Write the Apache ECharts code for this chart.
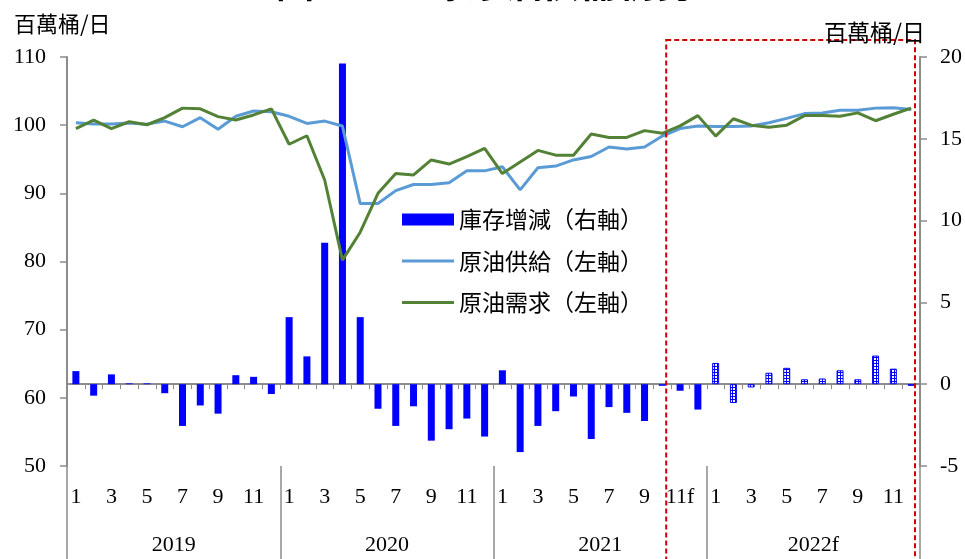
<!DOCTYPE html>
<html><head><meta charset="utf-8">
<script src="https://cdn.jsdelivr.net/npm/echarts@6/dist/echarts.min.js"></script>
<style>html,body{margin:0;padding:0;background:#fff;overflow:hidden}#c{width:965px;height:559px}</style>
</head><body><div id="c"></div>
<script>
// ---- data ----
const monthLabels = [
  '1','2','3','4','5','6','7','8','9','10','11','12',
  '1','2','3','4','5','6','7','8','9','10','11','12',
  '1','2','3','4','5','6','7','8','9','10','11f','12',
  '1','2','3','4','5','6','7','8','9','10','11','12'
];
const yearLabels = ['2019', '2020', '2021', '2022f'];
const seriesNames = ['庫存增減（右軸）', '原油供給（左軸）', '原油需求（左軸）'];
const unitLabel = '百萬桶/日';
const titleText = '圖一　全球原油供需情勢';

// 原油供給 (左軸, 百萬桶/日)
const supply = [
  100.35, 100.16, 100.16, 100.3, 100.15, 100.6, 99.77, 101.1, 99.4, 101.3, 102.07, 101.97,
  101.3, 100.26, 100.6, 99.87, 88.5, 88.5, 90.4, 91.3, 91.3, 91.55, 93.3, 93.3,
  93.9, 90.5, 93.75, 94.0, 94.9, 95.4, 96.8, 96.5, 96.8, 98.4, 99.5, 99.87,
  99.8, 99.8, 99.87, 100.35, 101.0, 101.7, 101.8, 102.2, 102.2, 102.5, 102.55, 102.3
];
// 原油需求 (左軸)
const demand = [
  99.5, 100.75, 99.5, 100.5, 100.06, 101.1, 102.5, 102.4, 101.25, 100.75, 101.5, 102.4,
  97.2, 98.45, 91.95, 80.2, 84.3, 90.0, 92.9, 92.7, 94.9, 94.3, 95.4, 96.6,
  92.9, 94.6, 96.3, 95.6, 95.6, 98.7, 98.2, 98.2, 99.2, 98.8, 99.9, 101.4,
  98.4, 100.94, 100.0, 99.7, 100.0, 101.4, 101.4, 101.3, 101.8, 100.65, 101.6, 102.5
];
// 庫存增減 (右軸)
const stockChange = [
  0.8, -0.7, 0.6, 0.05, 0.05, -0.55, -2.55, -1.3, -1.8, 0.55, 0.45, -0.6,
  4.1, 1.7, 8.65, 19.6, 4.1, -1.5, -2.55, -1.35, -3.45, -2.75, -2.1, -3.2,
  0.85, -4.15, -2.55, -1.65, -0.75, -3.35, -1.4, -1.75, -2.25, -0.1, -0.4, -1.55,
  1.3, -1.15, -0.2, 0.7, 1.0, 0.3, 0.35, 0.85, 0.3, 1.75, 0.95, -0.1
];
const leftAxisRange = [50, 110, 10];
const rightAxisRange = [-5, 20, 5];
const forecastFrom = 34;      // 2021年11月 起為預測
const patternFrom = 36;       // 2022年 以網紋表示

// ---- style ----
const serif = '"Liberation Serif", "Times New Roman", serif';
const cjk = '"Noto Sans CJK TC", "Noto Sans CJK SC", sans-serif';
const axisGrey = '#8c8c8c';
const barBlue = '#0000ff';

function makePattern() {
  const c = document.createElement('canvas');
  c.width = 3; c.height = 3;
  const g = c.getContext('2d');
  g.fillStyle = barBlue; g.fillRect(0, 0, 3, 3);
  g.fillStyle = '#ffffff';
  g.fillRect(1, 1, 2, 2);
  return c;
}
const pattern = { image: makePattern(), repeat: 'repeat' };

const barData = stockChange.map((v, i) => i >= patternFrom
  ? { value: v, itemStyle: { color: pattern, borderColor: barBlue, borderWidth: 1 } }
  : { value: v });

const lineIcon = 'path://M0,0L0.01,0Z M0,12L0.01,12Z M0,4.5L52,4.5L52,7.5L0,7.5Z';

const chart = echarts.init(document.getElementById('c'), null, { renderer: 'canvas' });
const option = {
  animation: false,
  backgroundColor: '#fff',
  grid: { left: 67, right: 42, top: 57, bottom: 93, containLabel: false },
  legend: {
    orient: 'vertical', left: 402, top: 208, padding: 0,
    itemWidth: 52, itemHeight: 12, itemGap: 18.5,
    textStyle: { fontSize: 23, fontFamily: cjk, color: '#000' },
    data: [
      { name: seriesNames[0], icon: 'rect' },
      { name: seriesNames[1], icon: lineIcon },
      { name: seriesNames[2], icon: lineIcon }
    ]
  },
  xAxis: [
    {
      type: 'category', data: monthLabels, position: 'bottom',
      axisLine: { lineStyle: { color: axisGrey, width: 2 } },
      axisTick: { show: true, interval: 0, length: 5, lineStyle: { color: axisGrey, width: 1 } },
      axisLabel: {
        interval: (idx) => idx % 2 === 0, margin: 20,
        fontSize: 22, fontFamily: serif, color: '#000'
      }
    },
    {
      type: 'category', data: yearLabels, position: 'bottom',
      axisLine: { show: false },
      axisTick: { show: true, interval: 0, length: 95, lineStyle: { color: axisGrey, width: 1.5 } },
      axisLabel: { margin: 68, fontSize: 22, fontFamily: serif, color: '#000' }
    }
  ],
  yAxis: [
    {
      type: 'value', min: leftAxisRange[0], max: leftAxisRange[1], interval: leftAxisRange[2],
      axisLine: { show: true, lineStyle: { color: axisGrey, width: 2 } },
      axisTick: { show: true, length: 7, lineStyle: { color: axisGrey, width: 1.5 } },
      splitLine: { show: false },
      axisLabel: { margin: 21, fontSize: 22, fontFamily: serif, color: '#000' }
    },
    {
      type: 'value', min: rightAxisRange[0], max: rightAxisRange[1], interval: rightAxisRange[2],
      position: 'right',
      axisLine: { show: true, lineStyle: { color: axisGrey, width: 2 } },
      axisTick: { show: true, length: 7, lineStyle: { color: axisGrey, width: 1.5 } },
      splitLine: { show: false },
      axisLabel: { margin: 20, fontSize: 22, fontFamily: serif, color: '#000' }
    }
  ],
  series: [
    {
      name: seriesNames[0], type: 'bar', xAxisIndex: 0, yAxisIndex: 1,
      data: barData, barWidth: 7, z: 1,
      itemStyle: { color: barBlue }
    },
    {
      name: seriesNames[1], type: 'line', xAxisIndex: 0, yAxisIndex: 0,
      data: supply, symbol: 'none', z: 3,
      lineStyle: { color: '#5b9bd5', width: 3 }, itemStyle: { color: '#5b9bd5' }
    },
    {
      name: seriesNames[2], type: 'line', xAxisIndex: 0, yAxisIndex: 0,
      data: demand, symbol: 'none', z: 4,
      lineStyle: { color: '#538135', width: 3 }, itemStyle: { color: '#538135' }
    }
  ]
};
chart.setOption(option);

// annotations computed from the axes
const p0 = chart.convertToPixel({ xAxisIndex: 0 }, forecastFrom - 1);
const p1 = chart.convertToPixel({ xAxisIndex: 0 }, forecastFrom);
const pEnd = chart.convertToPixel({ xAxisIndex: 0 }, monthLabels.length - 1);
const band = p1 - p0;
const topY = chart.convertToPixel({ yAxisIndex: 0 }, leftAxisRange[1]);
const gridRight = pEnd + band / 2;
const boxLeft = (p0 + p1) / 2 - 5;
const boxRight = gridRight - 5;
chart.setOption({
  graphic: [
    {
      type: 'rect', z: 10, silent: true,
      shape: { x: boxLeft, y: topY - 17, width: boxRight - boxLeft, height: 600 },
      style: { fill: 'none', stroke: '#d00000', lineWidth: 2, lineDash: [5, 3] }
    },
    {
      type: 'text', z: 10, left: 14, top: 13,
      style: { text: unitLabel, fontSize: 22, fontFamily: cjk, fill: '#000' }
    },
    {
      type: 'text', z: 10, right: 40, top: 21,
      style: { text: unitLabel, fontSize: 23, fontFamily: cjk, fill: '#000' }
    },
    {
      type: 'text', z: 10, x: 485, y: 2,
      style: { text: titleText, fontSize: 38, fontWeight: 'bold', fontFamily: cjk, fill: '#000',
        align: 'center', verticalAlign: 'bottom' }
    }
  ]
});
</script>
</body></html>
